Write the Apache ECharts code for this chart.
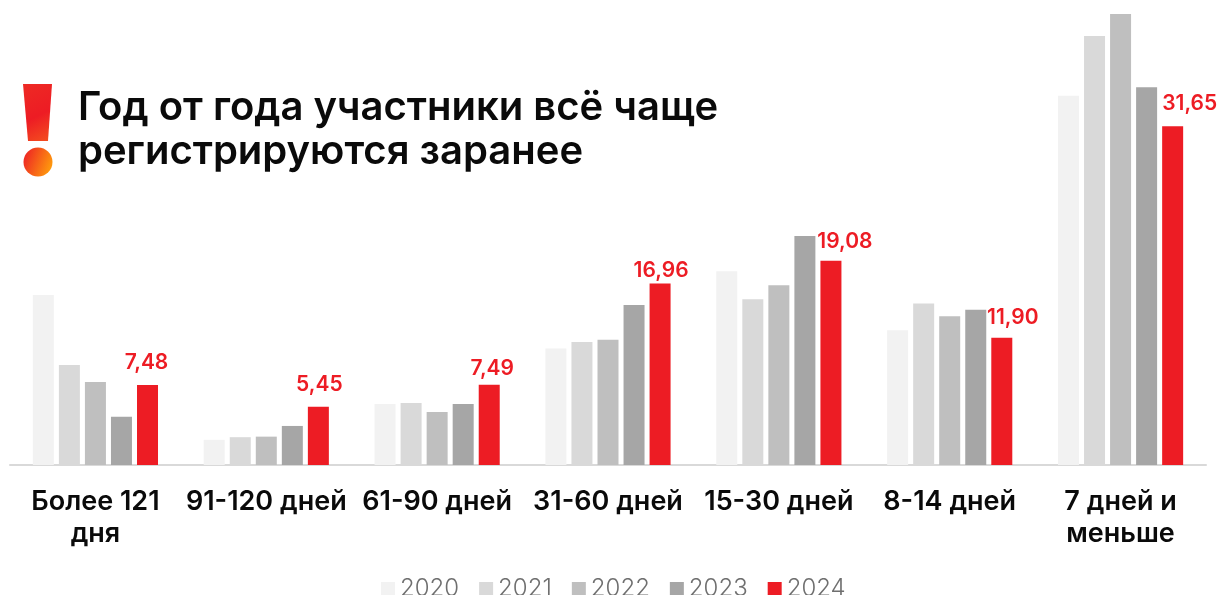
<!DOCTYPE html>
<html>
<head>
    <meta charset="UTF-8">
    <title>Регистрация участников</title>
    <script src="https://cdn.jsdelivr.net/npm/echarts@6/dist/echarts.min.js"></script>
    <style>
        html, body { margin: 0; padding: 0; background: #ffffff; }
        #main { width: 1218px; height: 595px; }
    </style>
</head>
<body>
<div id="main"></div>
<script type="text/javascript">
    var categories = ['Более 121\nдня', '91-120 дней', '61-90 дней', '31-60 дней', '15-30 дней', '8-14 дней', '7 дней и\nменьше'];
    var years = ['2020', '2021', '2022', '2023', '2024'];
    var values2020 = [15.9, 2.35, 5.7, 10.9, 18.1, 12.6, 34.5];
    var values2021 = [9.35, 2.6, 5.8, 11.5, 15.5, 15.1, 40.1];
    var values2022 = [7.75, 2.65, 4.95, 11.7, 16.8, 13.9, 42.15];
    var values2023 = [4.5, 3.65, 5.7, 14.95, 21.4, 14.5, 35.3];
    var values2024 = [7.48, 5.45, 7.49, 16.96, 19.08, 11.90, 31.65];

    var colors = ['#f2f2f2', '#d9d9d9', '#bfbfbf', '#a6a6a6', '#ed1c24'];
    var font = 'Inter, "Noto Sans", sans-serif';
    // подписи на исходной картинке сдвинуты вручную
    var labelShift = [[-1, -7], [1, -7], [3, -1], [1, 3], [14, -4], [11, -4], [17, -7]];

    var series = [values2020, values2021, values2022, values2023, values2024].map(function (vals, i) {
        var s = {
            name: years[i],
            type: 'bar',
            barWidth: 21,
            barGap: '24%',
            itemStyle: {color: colors[i]},
            data: vals
        };
        if (i === 4) {
            s.data = vals.map(function (v, k) {
                return {
                    value: v,
                    label: {
                        show: true,
                        position: 'top',
                        offset: labelShift[k],
                        color: '#ed1c24',
                        fontFamily: font,
                        fontWeight: 600,
                        fontSize: 21,
                        formatter: function (p) {
                            return p.value.toFixed(2).replace('.', ',');
                        }
                    }
                };
            });
        }
        return s;
    });

    var myChart = echarts.init(document.getElementById('main'));
    myChart.setOption({
        animation: false,
        backgroundColor: '#ffffff',
        title: {
            text: 'Год от года участники всё чаще\nрегистрируются заранее',
            left: 78,
            top: 86,
            padding: 0,
            textStyle: {
                color: '#0a0a0a',
                fontFamily: font,
                fontWeight: 600,
                fontSize: 40,
                lineHeight: 44
            }
        },
        legend: {
            data: years,
            left: 376,
            top: 572,
            itemWidth: 14,
            itemHeight: 14,
            itemGap: 20,
            icon: 'rect',
            textStyle: {
                color: '#6f6f6f',
                fontFamily: font,
                fontWeight: 300,
                fontSize: 24
            }
        },
        grid: {left: 10, right: 12, top: 0, height: 465},
        xAxis: {
            type: 'category',
            data: categories,
            axisTick: {show: false},
            axisLine: {lineStyle: {color: '#d9d9d9', width: 2}},
            axisLabel: {
                interval: 0,
                margin: 21,
                color: '#0a0a0a',
                fontFamily: font,
                fontWeight: 600,
                fontSize: 27,
                lineHeight: 32
            }
        },
        yAxis: {type: 'value', min: 0, max: 43.46, show: false, splitLine: {show: false}},
        graphic: [
            {
                type: 'polygon',
                shape: {points: [[23, 84], [52, 84], [48, 141], [28, 141]]},
                style: {
                    fill: new echarts.graphic.LinearGradient(0, 0, 1, 1, [
                        {offset: 0, color: '#ee2a24'},
                        {offset: 0.55, color: '#ed1c24'},
                        {offset: 1, color: '#f4511f'}
                    ])
                }
            },
            {
                type: 'circle',
                shape: {cx: 38, cy: 162, r: 14.5},
                style: {
                    fill: new echarts.graphic.LinearGradient(0, 0.3, 1, 0.7, [
                        {offset: 0, color: '#ee2624'},
                        {offset: 1, color: '#ff9e0c'}
                    ])
                }
            }
        ],
        series: series
    });
</script>
</body>
</html>
